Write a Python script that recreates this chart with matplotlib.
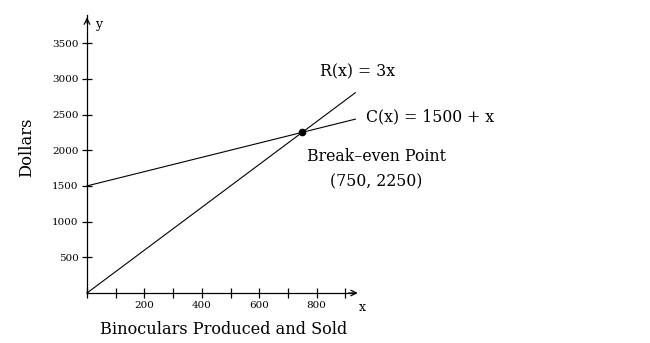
import matplotlib.pyplot as plt
from matplotlib.ticker import MultipleLocator, FuncFormatter

# values
rev_x = [0, 935]
rev_y = [0, 2805]
cost_x = [0, 935]
cost_y = [1500, 2435]
be_x = [750]
be_y = [2250]
y_ticks = [500, 1000, 1500, 2000, 2500, 3000, 3500]

W, H = 650, 343
fig = plt.figure(figsize=(W / 100, H / 100), dpi=100)
plt.rcParams['font.family'] = ['DejaVu Serif']

x0, y0 = 87, 293          # origin in pixels
px_x = 0.287              # pixels per unit x
px_y = 0.0714             # pixels per unit y
xmax, ymax = 930, 3900
ax = fig.add_axes([x0 / W, (H - y0) / H, xmax * px_x / W, ymax * px_y / H])
ax.set_xlim(0, xmax)
ax.set_ylim(0, ymax)

for s in ['top', 'right']:
    ax.spines[s].set_visible(False)
for s in ['left', 'bottom']:
    ax.spines[s].set_linewidth(0.9)

ax.xaxis.set_major_locator(MultipleLocator(100))
ax.xaxis.set_major_formatter(FuncFormatter(lambda v, p: '%d' % v if v % 200 == 0 and v > 0 else ''))
ax.set_yticks(y_ticks)
ax.tick_params(direction='inout', length=7, width=0.9, labelsize=7.5, pad=2.5)

# axis arrows
ax.annotate('', xy=(1.025, 0), xytext=(0.97, 0), xycoords='axes fraction',
            arrowprops=dict(arrowstyle='->', lw=0.9, color='black'))
ax.annotate('', xy=(0, 1.0), xytext=(0, 0.96), xycoords='axes fraction',
            arrowprops=dict(arrowstyle='->', lw=0.9, color='black'))
ax.text(1.03, -0.03, 'x', transform=ax.transAxes, fontsize=9, ha='center', va='top')
ax.text(0.03, 0.965, 'y', transform=ax.transAxes, fontsize=9, ha='left', va='center')

ax.plot(rev_x, rev_y, color='black', lw=0.8, clip_on=False)
ax.plot(cost_x, cost_y, color='black', lw=0.8, clip_on=False)
ax.plot(be_x, be_y, 'o', color='black', ms=4.5, clip_on=False)

ax.text(941, 3095, 'R(x) = 3x', fontsize=11.3, ha='center', va='center')
ax.text(972, 2465, 'C(x) = 1500 + x', fontsize=11.3, ha='left', va='center')
ax.text(1007, 1918, 'Break\u2013even Point', fontsize=11.3, ha='center', va='center')
ax.text(1007, 1555, '(750, 2250)', fontsize=11.3, ha='center', va='center')

fig.text(27 / W, 1 - 147 / H, 'Dollars', rotation=90, fontsize=11.8, ha='center', va='center')
fig.text(224 / W, 1 - 329 / H, 'Binoculars Produced and Sold', fontsize=11.6, ha='center', va='center')

fig.savefig('out.png', dpi=100)
